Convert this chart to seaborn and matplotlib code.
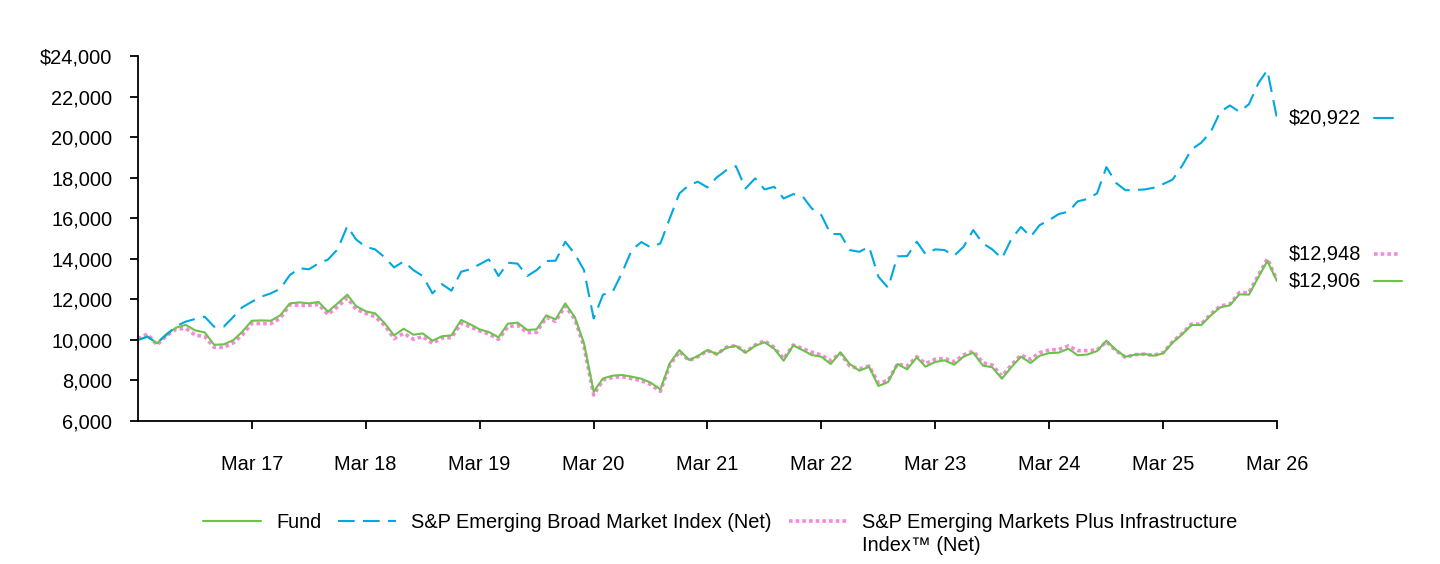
import numpy as np
import pandas as pd
import matplotlib
matplotlib.use("Agg")
import matplotlib.pyplot as plt
import matplotlib.ticker as mticker
import matplotlib.transforms as mtransforms
from matplotlib.lines import Line2D
import seaborn as sns

# ---------------- data ----------------
fund = [10000, 10150, 9830, 10290, 10600, 10740, 10470, 10370, 9760, 9780,
        9990, 10400, 10945, 10960, 10945, 11210, 11800, 11850, 11800, 11870,
        11390, 11800, 12230, 11670, 11410, 11310, 10820, 10225, 10550, 10255,
        10320, 9960, 10175, 10225, 10980, 10780, 10520, 10390, 10125, 10800,
        10850, 10490, 10520, 11210, 11010, 11800, 11110, 9830, 7445, 8100,
        8235, 8270, 8185, 8085, 7890, 7560, 8845, 9500, 9010, 9205,
        9500, 9300, 9615, 9700, 9370, 9710, 9880, 9565, 8975, 9730,
        9485, 9255, 9170, 8810, 9385, 8810, 8480, 8680, 7725, 7920,
        8810, 8550, 9140, 8680, 8910, 8990, 8775, 9170, 9370, 8730,
        8650, 8085, 8650, 9170, 8860, 9220, 9350, 9370, 9565, 9240,
        9280, 9450, 9960, 9500, 9170, 9270, 9300, 9220, 9335, 9860,
        10275, 10730, 10730, 11210, 11605, 11705, 12245, 12230, 13115, 13890,
        12906]

broad = [10000, 10160, 9860, 10240, 10680, 10900, 11030, 11140, 10650, 10650,
         11140, 11605, 11880, 12130, 12295, 12520, 13200, 13530, 13480, 13775,
         13960, 14465, 15610, 14955, 14590, 14465, 14070, 13575, 13870, 13440,
         13150, 12295, 12755, 12425, 13360, 13480, 13725, 13970, 13150, 13805,
         13760, 13150, 13440, 13890, 13905, 14840, 14230, 13440, 11060, 12230,
         12375, 13310, 14430, 14825, 14560, 14760, 15990, 17225, 17635, 17800,
         17520, 18015, 18375, 18570, 17470, 17965, 17420, 17550, 16975, 17190,
         17060, 16485, 16155, 15220, 15220, 14430, 14345, 14595, 13115, 12570,
         14120, 14135, 14840, 14230, 14465, 14430, 14150, 14595, 15415, 14760,
         14465, 14020, 14960, 15570, 15085, 15660, 15910, 16205, 16320, 16830,
         16950, 17225, 18520, 17740, 17380, 17390, 17420, 17500, 17685, 17900,
         18590, 19400, 19720, 20265, 21250, 21560, 21250, 21620, 22680, 23300,
         20922]

infra = [10050, 10290, 9750, 10200, 10520, 10570, 10240, 10160, 9630, 9630,
         9860, 10240, 10815, 10800, 10800, 11060, 11735, 11700, 11700, 11750,
         11250, 11640, 12065, 11510, 11310, 11140, 10715, 10060, 10320, 10030,
         10160, 9830, 10090, 10110, 10815, 10650, 10450, 10290, 10030, 10650,
         10715, 10355, 10370, 11110, 10910, 11670, 11010, 9665, 7280, 8020,
         8150, 8185, 8085, 7990, 7790, 7460, 8760, 9420, 8975, 9170,
         9470, 9300, 9640, 9720, 9400, 9750, 9960, 9620, 9070, 9750,
         9565, 9400, 9255, 8975, 9335, 8710, 8580, 8710, 7890, 7990,
         8810, 8710, 9170, 8840, 9040, 9090, 8925, 9255, 9450, 8875,
         8760, 8215, 8760, 9255, 9040, 9370, 9500, 9530, 9700, 9470,
         9470, 9500, 9910, 9465, 9140, 9270, 9300, 9240, 9370, 9910,
         10320, 10780, 10780, 11280, 11670, 11770, 12330, 12330, 13200, 14000,
         12948]

dates = pd.date_range("2016-03-31", periods=len(fund), freq="ME")
tick_dates = dates[12::12]
tick_labels = ["Mar 17", "Mar 18", "Mar 19", "Mar 20", "Mar 21",
               "Mar 22", "Mar 23", "Mar 24", "Mar 25", "Mar 26"]
y_ticks = list(range(6000, 24001, 2000))

series_names = ["Fund", "S&P Emerging Broad Market Index (Net)",
                "S&P Emerging Markets Plus Infrastructure"]
infra_name_line2 = "Index\u2122 (Net)"

GREEN = "#6cc24a"
BLUE = "#00a8e1"
PINK = "#f48ad8"
DASH_BLUE = (0, (8, 4))
DOT_PINK = (0, (1.0, 0.85))
LW_LINE = 1.5
LW_DOT = 2.6

# ---------------- style ----------------
sns.set_theme(style="white")
plt.rcParams["font.family"] = ["Liberation Sans", "DejaVu Sans"]
plt.rcParams["text.color"] = "black"
FS = 14.4

W, H = 1440, 564
fig = plt.figure(figsize=(W / 100, H / 100), dpi=100)
ax = fig.add_axes([138 / W, 1 - 421 / H, (1277 - 138) / W, (421 - 56) / H])

df = pd.DataFrame({"date": dates, "fund": fund, "broad": broad, "infra": infra})

sns.lineplot(data=df, x="date", y="infra", ax=ax, color=PINK, linewidth=LW_DOT,
             legend=False)
l_infra = ax.lines[-1]
l_infra.set_linestyle(DOT_PINK)
sns.lineplot(data=df, x="date", y="fund", ax=ax, color=GREEN, linewidth=LW_LINE,
             legend=False)
l_fund = ax.lines[-1]
sns.lineplot(data=df, x="date", y="broad", ax=ax, color=BLUE, linewidth=LW_LINE,
             legend=False)
l_broad = ax.lines[-1]
l_broad.set_linestyle(DASH_BLUE)

ax.set_xlim(dates[0], dates[-1])
ax.set_ylim(y_ticks[0], y_ticks[-1])
ax.set_xticks(tick_dates)
ax.set_xticklabels(tick_labels)
ax.set_yticks(y_ticks)
ax.yaxis.set_major_formatter(mticker.FuncFormatter(
    lambda v, p: ("$" if v == y_ticks[-1] else "") + f"{int(v):,}"))
ax.set_xlabel("")
ax.set_ylabel("")

for s in ["top", "right"]:
    ax.spines[s].set_visible(False)
for s in ["left", "bottom"]:
    ax.spines[s].set_color("black")
    ax.spines[s].set_linewidth(1.3)
ax.tick_params(axis="both", which="major", direction="out", length=5.5, width=1.3,
               color="black", labelsize=FS, labelcolor="black",
               bottom=True, left=True, top=False, right=False)
ax.tick_params(axis="y", pad=13)
ax.tick_params(axis="x", pad=19)
ax.grid(False)

# ---------------- end labels ----------------
ends = [(broad[-1], BLUE, "-", LW_LINE, 0, (1374, 1393)),
        (infra[-1], PINK, DOT_PINK, LW_DOT, 19, (1374, 1400)),
        (fund[-1], GREEN, "-", LW_LINE, 0, (1374, 1402))]
ax_w = 1277 - 138
for val, col, ls, lw, dy, (x0, x1) in ends:
    ax.annotate(f"${val:,.0f}", xy=(dates[-1], val), xytext=(8.5, dy),
                textcoords="offset points", va="center", ha="left",
                fontsize=FS, color="black", annotation_clip=False)
    trans = mtransforms.offset_copy(
        mtransforms.blended_transform_factory(ax.transAxes, ax.transData),
        fig=fig, x=0, y=dy, units="points")
    seg = Line2D([1 + (x0 - 1277) / ax_w, 1 + (x1 - 1277) / ax_w], [val, val],
                 transform=trans, color=col, linewidth=lw, linestyle=ls,
                 clip_on=False)
    ax.add_line(seg)

# ---------------- legend ----------------
leg_handles = [
    Line2D([], [], color=GREEN, linewidth=LW_LINE, linestyle="-"),
    Line2D([], [], color=BLUE, linewidth=LW_LINE, linestyle=DASH_BLUE),
    Line2D([], [], color=PINK, linewidth=LW_DOT, linestyle=DOT_PINK),
]
leg = fig.legend(leg_handles, series_names, loc="upper center",
                 bbox_to_anchor=(0.5, 1 - 513 / H), ncol=3, frameon=False,
                 fontsize=FS, handlelength=2.9, handletextpad=0.75,
                 columnspacing=0.85, borderpad=0, borderaxespad=0,
                 labelcolor="black")

fig.canvas.draw()
bb = leg.get_texts()[2].get_window_extent()
fig.text(bb.x0 / W, (bb.y0 - 23 + bb.height / 2) / H, infra_name_line2,
         fontsize=FS, va="center", ha="left", color="black")

fig.savefig("out.png", dpi=100)
